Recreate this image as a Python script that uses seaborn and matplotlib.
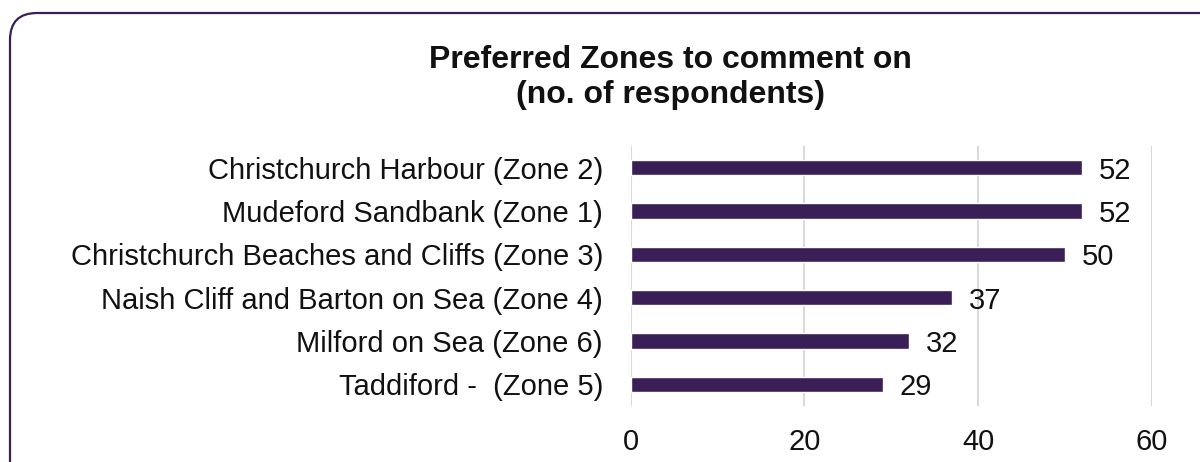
import pandas as pd
import seaborn as sns
import matplotlib.pyplot as plt
from matplotlib.patches import FancyBboxPatch

zones = [
    "Christchurch Harbour (Zone 2)",
    "Mudeford Sandbank (Zone 1)",
    "Christchurch Beaches and Cliffs (Zone 3)",
    "Naish Cliff and Barton on Sea (Zone 4)",
    "Milford on Sea (Zone 6)",
    "Taddiford -  (Zone 5)",
]
respondents = [52, 52, 50, 37, 32, 29]
x_ticks = [0, 20, 40, 60]

df = pd.DataFrame({"Zone": zones, "Respondents": respondents})

sns.set_theme(style="white")
plt.rcParams['font.family'] = ['Liberation Sans', 'DejaVu Sans']

bar_color = "#3a1f56"
fig = plt.figure(figsize=(12, 4.62), dpi=100)
ax = fig.add_axes([0.5256, 0.121, 0.4344, 0.563])

sns.barplot(data=df, y="Zone", x="Respondents", color=bar_color,
            width=0.35, saturation=1, ax=ax)

for container in ax.containers:
    labels = ax.bar_label(container, fmt='%d', padding=12, fontsize=21, color="#111111")
    for t in labels:
        t.set_va("center_baseline")

ax.set_xlim(0, 60)
ax.set_xticks(x_ticks)
ax.grid(axis="x", color="#d9d9d9", linewidth=1.5)
ax.set_axisbelow(True)
for s in ax.spines.values():
    s.set_visible(False)
ax.set_xlabel("")
ax.set_ylabel("")
ax.tick_params(axis="y", labelsize=21, pad=20, length=0, colors="#111111")
ax.tick_params(axis="x", labelsize=21, pad=16, length=0, colors="#111111")

fig.text(0.559, 0.832, "Preferred Zones to comment on\n(no. of respondents)",
         ha="center", va="center", fontsize=23, fontweight="bold",
         color="#111111", linespacing=1.2)

border = FancyBboxPatch((0.1, -0.3), 12.3, 4.49 + 0.3,
                        boxstyle="round,pad=0,rounding_size=0.27",
                        transform=fig.dpi_scale_trans, fill=False,
                        edgecolor="#3a1f56", linewidth=1.6, clip_on=False)
fig.patches.append(border)

plt.savefig("out.png", dpi=100)
